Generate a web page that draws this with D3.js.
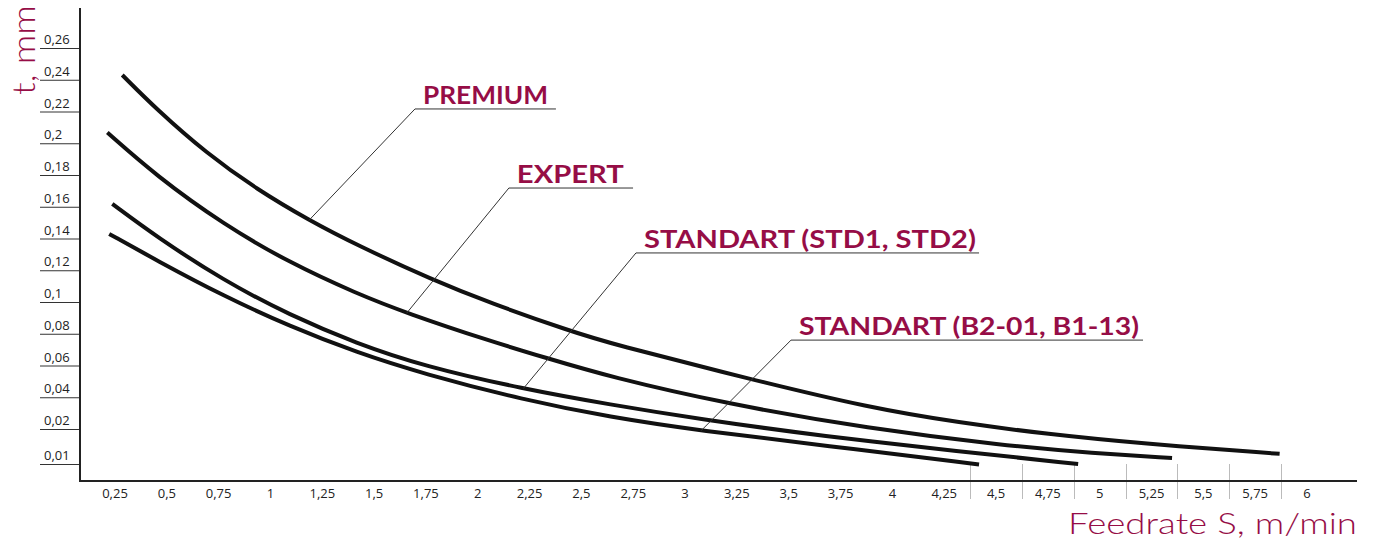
<!DOCTYPE html>
<html>
<head>
<meta charset="utf-8">
<script src="https://cdn.jsdelivr.net/npm/d3@7"></script>
<style>
  body { margin: 0; background: #fff; }
  svg { display: block; }
</style>
</head>
<body>
<svg id="chart"></svg>
<script>
// data (feedrate S, m/min  ->  t, mm)
var premium = [[0.285,0.243],[0.451,0.2213],[0.692,0.1936],[0.934,0.171],[1.186,0.1515],[1.416,0.1359],
               [1.785,0.1137],[2.059,0.0994],[2.453,0.0814],[2.638,0.0739],[3.325,0.051],[3.888,0.0334],
               [4.321,0.024],[4.754,0.0185],[5.187,0.0159],[5.868,0.0129]];
var expert  = [[0.213,0.2067],[0.451,0.1793],[0.772,0.149],[1.094,0.1246],[1.416,0.1053],[1.657,0.093],
               [2.059,0.0754],[2.324,0.065],[2.638,0.0528],[3.195,0.036],[3.888,0.0202],[4.537,0.0153],
               [4.970,0.0131],[5.349,0.0117]];
var std12   = [[0.237,0.1618],[0.451,0.141],[0.772,0.1137],[1.094,0.0916],[1.416,0.0739],[1.737,0.0597],
               [2.22,0.0452],[2.638,0.0354],[3.066,0.0263],[3.672,0.0179],[4.321,0.0136],[4.896,0.0100]];
var stdB    = [[0.222,0.1429],[0.451,0.1262],[0.772,0.1039],[1.094,0.0846],[1.416,0.0682],[1.737,0.0548],
               [2.22,0.0384],[2.638,0.0275],[3.077,0.0195],[3.672,0.0153],[4.418,0.0097]];

var seriesNames = ['PREMIUM', 'EXPERT', 'STANDART (STD1, STD2)', 'STANDART (B2-01, B1-13)'];
// callout: point on curve, start of underline, end of underline (data units)
var calloutFrom = [[1.186,0.1515],[1.657,0.093],[2.22,0.0455],[3.077,0.0195]];
var calloutTo   = [[1.697,0.2216],[2.15,0.1718],[2.763,0.1309],[3.511,0.076]];
var calloutEnd  = [2.377, 2.749, 4.418, 5.209];

var xTicks = [0.25,0.5,0.75,1,1.25,1.5,1.75,2,2.25,2.5,2.75,3,3.25,3.5,3.75,4,4.25,4.5,4.75,5,5.25,5.5,5.75,6];
var yTicks = [0.01,0.02,0.04,0.06,0.08,0.1,0.12,0.14,0.16,0.18,0.2,0.22,0.24,0.26];
var xSeparators = [4.375,4.625,4.875,5.125,5.375,5.625,5.875];

var W = 1373, H = 545;
var accent = '#960d46';
var labelWidths = [125, 107, 332, 340]; // the original face is wider than Lato

var svg = d3.select('#chart').attr('width', W).attr('height', H);

var x = d3.scaleLinear().domain([0.25, 6]).range([115, 1307]);
// scale of the original is stretched near zero
var y = d3.scaleLinear().domain([0, 0.01, 0.02, 0.26]).range([480, 464, 429, 48]);

var fmt = function(v){ return String(v).replace('.', ','); };

// y tick lines + labels
var yt = svg.append('g').selectAll('g').data(yTicks).enter().append('g');
yt.append('line')
    .attr('x1', 40).attr('x2', 80)
    .attr('y1', function(d){ return y(d) + 0.5; })
    .attr('y2', function(d){ return y(d) + 0.5; })
    .attr('stroke', '#333').attr('stroke-width', 1);
yt.append('text')
    .attr('x', 44)
    .attr('y', function(d){ return y(d) - 4; })
    .style('font-family', 'Open Sans, sans-serif')
    .style('font-size', '13px')
    .attr('fill', '#222')
    .text(fmt);

// separators near the right end of x axis
svg.append('g').selectAll('line').data(xSeparators).enter().append('line')
    .attr('x1', function(d){ return Math.round(x(d)) + 0.5; })
    .attr('x2', function(d){ return Math.round(x(d)) + 0.5; })
    .attr('y1', 464).attr('y2', 499)
    .attr('stroke', '#bbb').attr('stroke-width', 1);

// x labels
svg.append('g').selectAll('text').data(xTicks).enter().append('text')
    .attr('x', function(d){ return x(d); })
    .attr('y', 498)
    .attr('text-anchor', 'middle')
    .style('font-family', 'Open Sans, sans-serif')
    .style('font-size', '13px')
    .attr('fill', '#222')
    .text(fmt);

// axes
svg.append('path')
    .attr('d', 'M80,8V481H1357')
    .attr('fill', 'none')
    .attr('stroke', '#222')
    .attr('stroke-width', 2);

// curves
var line = d3.line()
    .x(function(d){ return x(d[0]); })
    .y(function(d){ return y(d[1]); })
    .curve(d3.curveBasis);

svg.append('g').selectAll('path').data([premium, expert, std12, stdB]).enter().append('path')
    .attr('d', line)
    .attr('fill', 'none')
    .attr('stroke', '#111')
    .attr('stroke-width', 4);

// callouts
var co = svg.append('g').selectAll('g').data(seriesNames).enter().append('g');
co.append('polyline')
    .attr('points', function(d, i){
        var a = calloutFrom[i], b = calloutTo[i];
        return [x(a[0]), y(a[1]), x(b[0]), y(b[1]), x(calloutEnd[i]), y(b[1])].join(',');
    })
    .attr('fill', 'none')
    .attr('stroke', '#333')
    .attr('stroke-width', 1);
co.append('text')
    .attr('x', function(d, i){ return x(calloutTo[i][0]) + 8; })
    .attr('y', function(d, i){ return y(calloutTo[i][1]) - 5; })
    .attr('textLength', function(d, i){ return labelWidths[i]; })
    .attr('lengthAdjust', 'spacingAndGlyphs')
    .style('font-family', 'Lato, sans-serif')
    .style('font-weight', 'bold')
    .style('font-size', '25px')
    .attr('fill', accent)
    .text(function(d){ return d; });

// axis titles
svg.append('text')
    .attr('transform', 'translate(35,95) rotate(-90)')
    .attr('textLength', 90)
    .attr('lengthAdjust', 'spacingAndGlyphs')
    .style('font-family', 'Lato, sans-serif')
    .style('font-weight', 300)
    .style('font-size', '31px')
    .attr('fill', accent)
    .text('t, mm');

svg.append('text')
    .attr('x', 1068).attr('y', 534)
    .attr('textLength', 289)
    .attr('lengthAdjust', 'spacingAndGlyphs')
    .style('font-family', 'Lato, sans-serif')
    .style('font-weight', 300)
    .style('font-size', '30px')
    .attr('fill', accent)
    .text('Feedrate S, m/min');
</script>
</body>
</html>
